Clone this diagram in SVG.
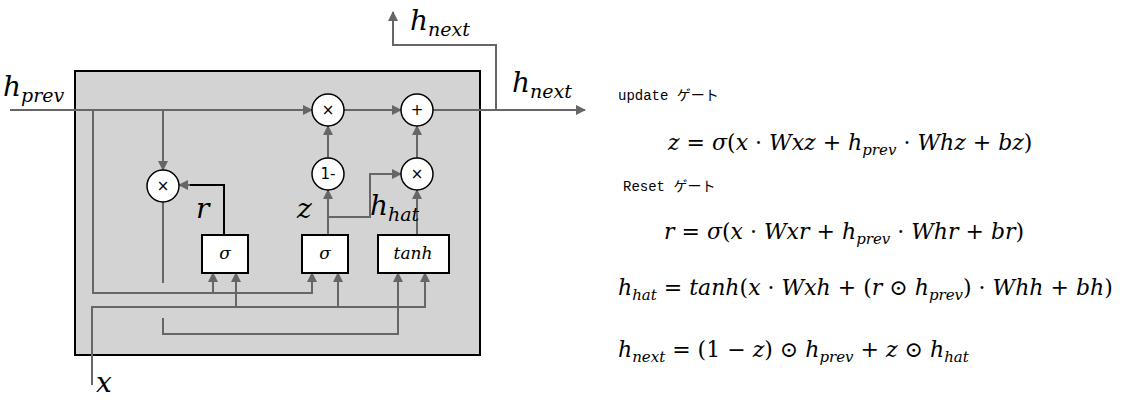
<svg xmlns="http://www.w3.org/2000/svg" width="1123" height="400" viewBox="0 0 1123 400">
<style>
.w{stroke:#666;stroke-width:2;fill:none}
.c{fill:#fff;stroke:#000;stroke-width:1.5}
.b{fill:#fff;stroke:#000;stroke-width:2}
.op{font-family:"DejaVu Sans",sans-serif;font-size:15px;text-anchor:middle}
.it{font-family:"DejaVu Serif","Liberation Serif",serif;font-style:italic}
.eq{font-family:"DejaVu Serif","Liberation Serif",serif;font-size:22px}
.i{font-style:italic}
.m{font-family:"Liberation Mono","Noto Sans CJK JP",monospace;font-size:14px}
</style>
<defs><marker id="a" viewBox="0 0 10 10" refX="9" refY="5" markerWidth="5" markerHeight="5" orient="auto"><path d="M0,0L10,5L0,10z" fill="#666"/></marker></defs>
<rect x="75" y="71" width="405" height="284" fill="#d3d3d3" stroke="#000" stroke-width="2"/>
<g id="connectors">
<path class="w" d="M10,110H312" marker-end="url(#a)"/>
<path class="w" d="M344,110H401" marker-end="url(#a)"/>
<path class="w" d="M433,110H585" marker-end="url(#a)"/>
<path class="w" d="M496,110V45H393V12" marker-end="url(#a)"/>
<path class="w" d="M163,110V170" marker-end="url(#a)"/>
<path class="w" d="M163,202V283"/>
<path class="w" d="M93,110V293H312V273" marker-end="url(#a)"/>
<path class="w" d="M213,293V273" marker-end="url(#a)"/>
<path class="w" d="M92,385V307H425V273" marker-end="url(#a)"/>
<path class="w" d="M236,307V273" marker-end="url(#a)"/>
<path class="w" d="M338,307V273" marker-end="url(#a)"/>
<path class="w" d="M163,318V334H398V273" marker-end="url(#a)"/>
<path d="M224,235V185H186" fill="none" stroke="#000" stroke-width="2"/>
<path class="w" d="M190,185H179" marker-end="url(#a)"/>
<path class="w" d="M328,235V190" marker-end="url(#a)"/>
<path class="w" d="M328,217H370V174H401" marker-end="url(#a)"/>
<path class="w" d="M328,158V126" marker-end="url(#a)"/>
<path class="w" d="M417,235V190" marker-end="url(#a)"/>
<path class="w" d="M417,158V126" marker-end="url(#a)"/>
</g>
<g id="mul1"><circle class="c" cx="328" cy="110" r="16"/><text class="op" x="328" y="115">×</text></g>
<g id="add"><circle class="c" cx="417" cy="110" r="16"/><text class="op" x="417" y="115">+</text></g>
<g id="oneminus"><circle class="c" cx="328" cy="174" r="16"/><text class="op" x="328" y="179">1-</text></g>
<g id="mul2"><circle class="c" cx="417" cy="174" r="16"/><text class="op" x="417" y="179">×</text></g>
<g id="mul3"><circle class="c" cx="163" cy="186" r="16"/><text class="op" x="163" y="191">×</text></g>
<g id="sig_r"><rect class="b" x="202" y="235" width="46" height="38"/><text class="it" x="225" y="259" font-size="17" text-anchor="middle">σ</text></g>
<g id="sig_z"><rect class="b" x="302" y="235" width="46" height="38"/><text class="it" x="325" y="259" font-size="17" text-anchor="middle">σ</text></g>
<g id="tanh"><rect class="b" x="378" y="235" width="71" height="38"/><text class="it" x="413" y="259" font-size="17" text-anchor="middle">tanh</text></g>
<g class="it" font-size="28">
<text x="3" y="96">h<tspan font-size="19" dy="6">prev</tspan></text>
<text x="512" y="92">h<tspan font-size="19" dy="6">next</tspan></text>
<text x="410" y="30">h<tspan font-size="19" dy="6">next</tspan></text>
<text x="196" y="218">r</text>
<text x="297" y="218">z</text>
<text x="370" y="215">h<tspan font-size="19" dy="6">hat</tspan></text>
<text x="96" y="392">x</text>
</g>
<text class="m" x="618" y="100">update ゲート</text>
<text class="m" x="623" y="191">Reset ゲート</text>
<g class="eq">
<text x="668" y="150"><tspan class="i">z</tspan> = <tspan class="i">σ</tspan>(<tspan class="i">x</tspan> · <tspan class="i">Wxz</tspan> + <tspan class="i">h</tspan><tspan font-size="15" dy="5" class="i">prev</tspan><tspan dy="-5"> · </tspan><tspan class="i">Whz</tspan> + <tspan class="i">bz</tspan>)</text>
<text x="664" y="239"><tspan class="i">r</tspan> = <tspan class="i">σ</tspan>(<tspan class="i">x</tspan> · <tspan class="i">Wxr</tspan> + <tspan class="i">h</tspan><tspan font-size="15" dy="5" class="i">prev</tspan><tspan dy="-5"> · </tspan><tspan class="i">Whr</tspan> + <tspan class="i">br</tspan>)</text>
<text x="618" y="295"><tspan class="i">h</tspan><tspan font-size="15" dy="5" class="i">hat</tspan><tspan dy="-5"> = </tspan><tspan class="i">tanh</tspan>(<tspan class="i">x</tspan> · <tspan class="i">Wxh</tspan> + (<tspan class="i">r</tspan> ⊙ <tspan class="i">h</tspan><tspan font-size="15" dy="5" class="i">prev</tspan><tspan dy="-5">) · </tspan><tspan class="i">Whh</tspan> + <tspan class="i">bh</tspan>)</text>
<text x="618" y="357"><tspan class="i">h</tspan><tspan font-size="15" dy="5" class="i">next</tspan><tspan dy="-5"> = (1 − </tspan><tspan class="i">z</tspan>) ⊙ <tspan class="i">h</tspan><tspan font-size="15" dy="5" class="i">prev</tspan><tspan dy="-5"> + </tspan><tspan class="i">z</tspan> ⊙ <tspan class="i">h</tspan><tspan font-size="15" dy="5" class="i">hat</tspan></text>
</g>
</svg>
